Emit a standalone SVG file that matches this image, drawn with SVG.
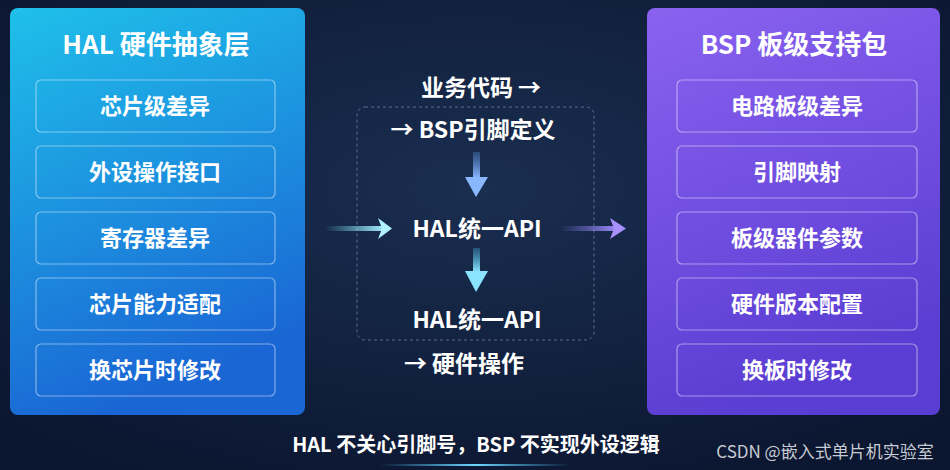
<svg xmlns="http://www.w3.org/2000/svg" width="950" height="470" viewBox="0 0 950 470">
<defs>
<radialGradient id="bg" cx="0.5" cy="0.4" r="0.7"><stop offset="0" stop-color="#1a2e50"/><stop offset="1" stop-color="#0b1630"/></radialGradient>
<linearGradient id="lg" x1="0" y1="0" x2="0.3" y2="1"><stop offset="0" stop-color="#1fc0ea"/><stop offset="1" stop-color="#1a66d4"/></linearGradient>
<linearGradient id="rg" x1="0" y1="0" x2="0.3" y2="1"><stop offset="0" stop-color="#8a62f0"/><stop offset="1" stop-color="#5a3dd2"/></linearGradient>
<linearGradient id="ai" x1="0" x2="1"><stop offset="0" stop-color="#7fe8ff" stop-opacity="0"/><stop offset="1" stop-color="#a8f0ff"/></linearGradient>
<linearGradient id="ao" x1="0" x2="1"><stop offset="0" stop-color="#8a7cf0" stop-opacity="0"/><stop offset="1" stop-color="#a08cff"/></linearGradient>
<linearGradient id="ad1" x1="0" y1="0" x2="0" y2="1"><stop offset="0" stop-color="#5a8fe0" stop-opacity="0.3"/><stop offset="1" stop-color="#8ab8ff"/></linearGradient>
<linearGradient id="ad2" x1="0" y1="0" x2="0" y2="1"><stop offset="0" stop-color="#4ab8e0" stop-opacity="0.3"/><stop offset="1" stop-color="#8ae4ff"/></linearGradient>
<linearGradient id="ul" x1="0" x2="1"><stop offset="0" stop-color="#4fc8ff" stop-opacity="0"/><stop offset="0.5" stop-color="#6fd8ff"/><stop offset="1" stop-color="#4fc8ff" stop-opacity="0"/></linearGradient>
</defs>
<style>
text{font-family:"Noto Sans CJK SC","Noto Sans",sans-serif;font-weight:bold;fill:#fff;text-anchor:middle}
.t{font-size:26px}.i{font-size:22px}.c{font-size:23px}
.lb{fill:none;stroke:rgba(255,255,255,0.45);stroke-width:1.2}
</style>
<rect width="950" height="470" fill="url(#bg)"/>
<g id="hal">
<rect x="10" y="8" width="295" height="407" rx="8" fill="url(#lg)"/>
<text class="t" x="156" y="54">HAL 硬件抽象层</text>
<rect class="lb" x="36" y="80" width="239" height="52" rx="5"/><text class="i" x="155" y="114">芯片级差异</text>
<rect class="lb" x="36" y="146" width="239" height="52" rx="5"/><text class="i" x="155" y="180">外设操作接口</text>
<rect class="lb" x="36" y="212" width="239" height="52" rx="5"/><text class="i" x="155" y="246">寄存器差异</text>
<rect class="lb" x="36" y="278" width="239" height="52" rx="5"/><text class="i" x="155" y="312">芯片能力适配</text>
<rect class="lb" x="36" y="344" width="239" height="52" rx="5"/><text class="i" x="155" y="378">换芯片时修改</text>
</g>
<g id="bsp">
<rect x="647" y="8" width="293" height="407" rx="8" fill="url(#rg)"/>
<text class="t" x="794" y="54">BSP 板级支持包</text>
<rect class="lb" x="677" y="80" width="240" height="52" rx="5"/><text class="i" x="797" y="114">电路板级差异</text>
<rect class="lb" x="677" y="146" width="240" height="52" rx="5"/><text class="i" x="797" y="180">引脚映射</text>
<rect class="lb" x="677" y="212" width="240" height="52" rx="5"/><text class="i" x="797" y="246">板级器件参数</text>
<rect class="lb" x="677" y="278" width="240" height="52" rx="5"/><text class="i" x="797" y="312">硬件版本配置</text>
<rect class="lb" x="677" y="344" width="240" height="52" rx="5"/><text class="i" x="797" y="378">换板时修改</text>
</g>
<g id="flow">
<rect x="357" y="107" width="237" height="233" rx="8" fill="none" stroke="#5a6e90" stroke-width="1" stroke-dasharray="3 3"/>
<text class="c" x="481" y="96">业务代码 →</text>
<text class="c" x="473" y="138">→ BSP引脚定义</text>
<text class="c" x="477" y="237">HAL统一API</text>
<text class="c" x="477" y="328">HAL统一API</text>
<text class="c" x="464" y="372">→ 硬件操作</text>
</g>
<g id="connectors">
<rect x="473" y="152" width="7" height="26" fill="url(#ad1)"/><polygon points="465,177 488,177 476,197" fill="#8ab8ff"/>
<rect x="473" y="248" width="7" height="24" fill="url(#ad2)"/><polygon points="465,271 488,271 476,292" fill="#8ae4ff"/>
<rect x="325" y="226" width="60" height="5" fill="url(#ai)"/><polygon points="378,218 392,228.5 378,239 382,228.5" fill="#b0f2ff"/>
<rect x="560" y="226" width="58" height="5" fill="url(#ao)"/><polygon points="610,218 626,228.5 610,239 614,228.5" fill="#a890ff"/>
</g>
<text x="476" y="452" style="font-size:20px">HAL 不关心引脚号，BSP 不实现外设逻辑</text>
<rect x="380" y="464" width="190" height="2" fill="url(#ul)"/>
<text x="825" y="458" style="font-size:17px;font-weight:normal;fill:#c8ccd4">CSDN @嵌入式单片机实验室</text>
</svg>
